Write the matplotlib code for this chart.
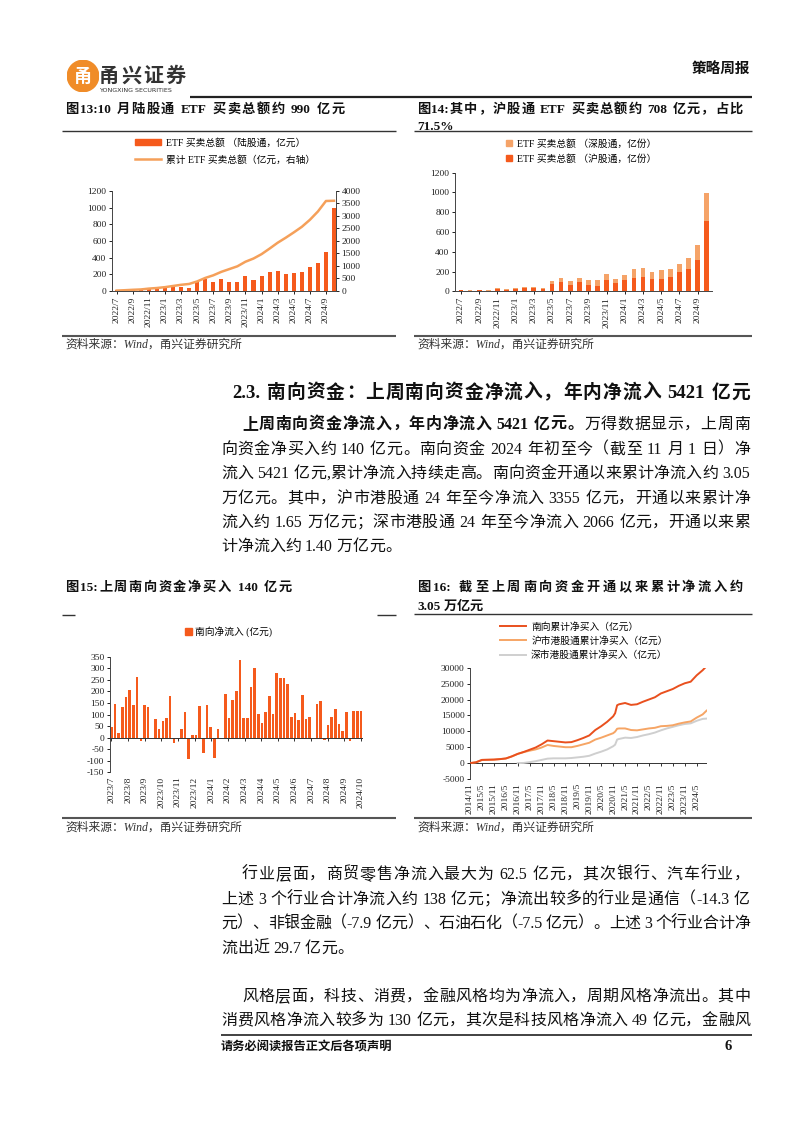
import re
import numpy as np
import matplotlib
matplotlib.use('Agg')
import matplotlib.pyplot as plt
from matplotlib.patches import Circle, Patch
from matplotlib.lines import Line2D

# ---------------- data ----------------
months13 = ['2022/7', '2022/8', '2022/9', '2022/10', '2022/11', '2022/12',
            '2023/1', '2023/2', '2023/3', '2023/4', '2023/5', '2023/6',
            '2023/7', '2023/8', '2023/9', '2023/10', '2023/11', '2023/12',
            '2024/1', '2024/2', '2024/3', '2024/4', '2024/5', '2024/6',
            '2024/7', '2024/8', '2024/9', '2024/10']
etf_total = [17, 14, 17, 14, 34, 24, 34, 47, 47, 34, 104, 140, 105, 145, 108, 108,
             183, 128, 175, 224, 234, 200, 213, 224, 283, 336, 467, 990]
etf_cum = [17, 31, 48, 62, 96, 120, 154, 201, 248, 282, 383, 522, 627, 766, 877, 988,
           1171, 1299, 1474, 1697, 1930, 2130, 2343, 2566, 2846, 3180, 3600, 3610]
etf_sh = [10, 8, 10, 8, 24, 14, 24, 37, 34, 20, 71, 95, 61, 95, 61, 57,
          118, 84, 111, 139, 145, 128, 128, 142, 196, 223, 321, 708]
etf_sz = [7, 6, 7, 6, 10, 10, 10, 10, 13, 14, 30, 44, 44, 44, 50, 54,
          61, 44, 58, 84, 88, 72, 85, 81, 84, 111, 145, 282]

south_labels = ['2023/7', '2023/8', '2023/9', '2023/10', '2023/11', '2023/12',
                '2024/1', '2024/2', '2024/3', '2024/4', '2024/5', '2024/6',
                '2024/7', '2024/8', '2024/9', '2024/10']
south_weekly = [47, 144, 19, 133, 176, 206, 140, 263, -14, 140, 134,
                0, 79, 39, 72, 84, 180, -22, -8, 36, 111, -94, 10, 13, 137, -68, 140, 46, -88, 39,
                0, 189, 87, 163, 202, 336, 84, 87, 219, 303, 101, 62,
                111, 180, 102, 281, 260, 260, 232, 91, 108, 76, 185, 79, 88,
                0, 144, 159, -10, 53, 91, 123, 58, 27, 112, -13, 113, 116, 114]

dates16 = ['2014/11', '2015/2', '2015/5', '2015/8', '2015/11', '2016/2', '2016/5', '2016/8',
           '2016/11', '2017/2', '2017/5', '2017/8', '2017/11', '2018/2', '2018/5', '2018/8',
           '2018/11', '2019/2', '2019/5', '2019/8', '2019/11', '2020/2', '2020/5', '2020/8',
           '2020/11', '2020/12', '2021/1', '2021/2', '2021/5', '2021/8', '2021/11', '2022/2',
           '2022/5', '2022/8', '2022/11', '2023/2', '2023/5', '2023/8', '2023/11', '2024/2',
           '2024/5', '2024/8', '2024/10']
south_cum = [0, 250, 1000, 1050, 1100, 1250, 1450, 2100,
             2900, 3500, 4200, 4900, 5900, 7100, 6900, 6700,
             6500, 6600, 7200, 7900, 8700, 10400, 11600, 13000,
             14700, 15700, 18200, 18500, 18900, 18300, 18500, 19300,
             20000, 20700, 21900, 22600, 23300, 24300, 25100, 25600,
             27600, 29200, 30500]
sh_cum = [0, 250, 1000, 1050, 1100, 1250, 1450, 2100,
          2900, 3450, 3900, 4300, 4900, 5700, 5400, 5200,
          5000, 5000, 5400, 5900, 6400, 7400, 8000, 8700,
          9400, 9900, 10800, 10900, 10900, 10400, 10300, 10600,
          10900, 11100, 11600, 11700, 11900, 12400, 12800, 13100,
          14300, 15300, 16500]
sz_cum = [None, None, None, None, None, None, None, None,
          0, 50, 300, 600, 1000, 1400, 1500, 1500,
          1500, 1600, 1800, 2000, 2300, 3000, 3600, 4300,
          5300, 5800, 7400, 7600, 8000, 7900, 8200, 8700,
          9100, 9600, 10300, 10900, 11400, 11900, 12300, 12500,
          13300, 13900, 14000]
ticks16 = ['2014/11', '2015/5', '2015/11', '2016/5', '2016/11', '2017/5', '2017/11',
           '2018/5', '2018/11', '2019/5', '2019/11', '2020/5', '2020/11', '2021/5',
           '2021/11', '2022/5', '2022/11', '2023/5', '2023/11', '2024/5']

# ---------------- setup ----------------
FAM = ['Liberation Serif', 'Noto Sans CJK SC', 'DejaVu Sans']
plt.rcParams['font.family'] = FAM
plt.rcParams['axes.unicode_minus'] = False

W, H = 802, 1133
fig = plt.figure(figsize=(W / 100, H / 100), dpi=100)
fig.patch.set_facecolor('white')
renderer = fig.canvas.get_renderer()

C_RED = '#F55A1C'
C_LIGHT = '#F5A368'
C_LINE = '#F5A05A'
C_S = '#E9501E'
C_SH = '#F6A565'
C_SZ = '#CFCFCF'
C_TXT = '#111111'


def fy(y):
    return 1 - y / H


def add_ax(l, t, r, b):
    return fig.add_axes([l / W, 1 - b / H, (r - l) / W, (b - t) / H])


def hline(x0, x1, y, lw=1.0, color='#333333'):
    fig.add_artist(Line2D([x0 / W, x1 / W], [fy(y), fy(y)], transform=fig.transFigure,
                          lw=lw, color=color, solid_capstyle='butt'))


_cache = {}


def tw(s, size, weight):
    key = (s, size, weight)
    if key not in _cache:
        t = fig.text(0, 0.5, s, fontsize=size, weight=weight)
        _cache[key] = t.get_window_extent(renderer=renderer).width
        t.remove()
    return _cache[key]


REF = '中'
TOKRE = re.compile(r'[A-Za-z0-9\.\-%:/,]+| |.')


def adv(tok, size, weight):
    return tw(tok + REF, size, weight) - tw(REF, size, weight)


def draw_line(x0, yc, segs, size, x1=None, color=C_TXT):
    toks = []
    for s, wgt in segs:
        for t in TOKRE.findall(s):
            toks.append((t, wgt))
    advs = [adv(t, size, w) for t, w in toks]
    n = len(toks)
    extra = 0.0
    if x1 is not None and n > 1:
        extra = (x1 - x0 - sum(advs)) / (n - 1)
    base = yc + size * 100 / 72 * 0.36
    x = x0
    for (t, w), a in zip(toks, advs):
        if t != ' ':
            fig.text(x / W, fy(base), t, fontsize=size, weight=w, color=color,
                     ha='left', va='baseline')
        x += a + extra


def style(ax, size=6.8):
    ax.tick_params(labelsize=size, length=2.5, width=0.7, colors='#222222', pad=1.5)
    for s in ax.spines.values():
        s.set_linewidth(0.7)
        s.set_color('#444444')
    ax.spines['top'].set_visible(False)
    ax.spines['right'].set_visible(False)
    ax.set_facecolor('none')


# ---------------- header ----------------
lax = add_ax(67, 60, 99, 92)
lax.set_xlim(0, 1)
lax.set_ylim(0, 1)
lax.axis('off')
lax.add_patch(Circle((0.5, 0.5), 0.49, color='#F08C28'))
lax.text(0.5, 0.47, '甬', color='white', fontsize=13, weight='bold', ha='center', va='center')
draw_line(99, 75, [('甬兴证券', 'bold')], 14.5, x1=186, color='#333333')
fig.text(99 / W, fy(91), 'YONGXING SECURITIES', fontsize=4.6, color='#333333',
         ha='left', va='center', family='DejaVu Sans')
fig.text(750 / W, fy(70), '策略周报', fontsize=10.5, weight='bold', color=C_TXT,
         ha='right', va='center')
hline(190, 752, 97, lw=1.6, color='#222222')

# ---------------- titles row 1 ----------------
draw_line(65, 108, [('图13:10 月陆股通 ETF 买卖总额约 990 亿元', 'bold')], 9.5, x1=345)
draw_line(417, 108, [('图14:其中，沪股通 ETF 买卖总额约 708 亿元，占比', 'bold')], 9.5, x1=743)
draw_line(417, 125, [('71.5%', 'bold')], 9.5)
hline(62, 396, 131, lw=1.0, color='#333333')
hline(414, 752, 131, lw=1.0, color='#333333')

# ---------------- chart 13 ----------------
ax13 = add_ax(112, 191, 336, 291)
x13 = np.arange(len(months13))
ax13.bar(x13, etf_total, width=0.5, color=C_RED, zorder=2)
ax13.set_xlim(-0.58, len(months13) - 0.75)
ax13.set_ylim(0, 1200)
ax13.set_yticks(np.arange(0, 1201, 200))
ax13.set_xticks(x13[::2])
ax13.set_xticklabels(months13[::2], rotation=90)
style(ax13)
ax13r = ax13.twinx()
ax13r.plot(x13, etf_cum, color=C_LINE, lw=1.8, zorder=3)
ax13r.set_ylim(0, 4000)
ax13r.set_yticks(np.arange(0, 4001, 500))
style(ax13r)
ax13r.spines['right'].set_visible(True)
ax13r.spines['left'].set_visible(False)
ax13r.spines['bottom'].set_visible(False)
fig.legend([Patch(color=C_RED), Line2D([], [], color=C_LINE, lw=1.8)],
           ['ETF 买卖总额 （陆股通，亿元）', '累计 ETF 买卖总额（亿元，右轴）'],
           loc='upper left', bbox_to_anchor=(135 / W, fy(138)), frameon=False,
           fontsize=7, handlelength=2.7, handleheight=0.6, labelspacing=0.75,
           handletextpad=0.5, borderpad=0, borderaxespad=0)

# ---------------- chart 14 ----------------
ax14 = add_ax(455, 172.7, 712, 291.3)
x14 = np.arange(len(months13))
ax14.bar(x14, etf_sh, width=0.52, color=C_RED, zorder=2)
ax14.bar(x14, etf_sz, bottom=etf_sh, width=0.52, color=C_LIGHT, zorder=2)
ax14.set_xlim(-0.66, len(months13) - 0.42)
ax14.set_ylim(0, 1200)
ax14.set_yticks(np.arange(0, 1201, 200))
ax14.set_xticks(x14[::2])
ax14.set_xticklabels(months13[::2], rotation=90)
style(ax14)
fig.legend([Patch(color=C_LIGHT), Patch(color=C_RED)],
           ['ETF 买卖总额 （深股通，亿份）', 'ETF 买卖总额 （沪股通，亿份）'],
           loc='upper left', bbox_to_anchor=(506 / W, fy(139)), frameon=False,
           fontsize=7, handlelength=0.6, handleheight=0.6, labelspacing=0.55,
           handletextpad=0.5, borderpad=0, borderaxespad=0)

for xs, xe in ((62, 396), (414, 752)):
    hline(xs, xe, 336, lw=1.5, color='#555555')
fig.text(65 / W, fy(345), '资料来源：Wind，甬兴证券研究所', fontsize=8.5, style='italic',
         color='#333333', ha='left', va='center')
fig.text(417 / W, fy(345), '资料来源：Wind，甬兴证券研究所', fontsize=8.5, style='italic',
         color='#333333', ha='left', va='center')

# ---------------- section text ----------------
draw_line(232, 391, [('2.3. 南向资金：上周南向资金净流入，年内净流入 5421 亿元', 'bold')], 13.5, x1=750)
BS = 11.5
draw_line(242, 423, [('上周南向资金净流入，年内净流入 5421 亿元。', 'bold'),
                     ('万得数据显示，上周南', 'normal')], BS, x1=750)
draw_line(221, 448, [('向资金净买入约 140 亿元。南向资金 2024 年初至今（截至 11 月 1 日）净', 'normal')], BS, x1=750)
draw_line(221, 472, [('流入 5421 亿元,累计净流入持续走高。南向资金开通以来累计净流入约 3.05', 'normal')], BS, x1=750)
draw_line(221, 497, [('万亿元。其中，沪市港股通 24 年至今净流入 3355 亿元，开通以来累计净', 'normal')], BS, x1=750)
draw_line(221, 521, [('流入约 1.65 万亿元；深市港股通 24 年至今净流入 2066 亿元，开通以来累', 'normal')], BS, x1=750)
draw_line(221, 545, [('计净流入约 1.40 万亿元。', 'normal')], BS)

# ---------------- titles row 2 ----------------
draw_line(65, 586, [('图15:上周南向资金净买入 140 亿元', 'bold')], 9.5, x1=292)
draw_line(417, 586, [('图16: 截至上周南向资金开通以来累计净流入约', 'bold')], 9.5, x1=743)
draw_line(417, 605, [('3.05 万亿元', 'bold')], 9.5)
hline(62, 75, 615, lw=1.0)
hline(377, 396, 615, lw=1.0)
hline(414, 752, 614, lw=1.0)

# ---------------- chart 15 ----------------
ax15 = add_ax(110, 656.7, 363, 772.3)
n15 = len(south_weekly)
x15 = np.arange(n15)
ax15.bar(x15, south_weekly, width=0.72, color=C_RED, zorder=2)
ax15.set_xlim(-0.4, n15 - 1 + 0.55)
ax15.set_ylim(-150, 350)
ax15.set_yticks(np.arange(-150, 351, 50))
style(ax15)
ax15.spines['bottom'].set_visible(False)
ax15.axhline(0, color='#333333', lw=0.7, zorder=3)
p15 = np.linspace(0, n15 - 1, len(south_labels))
ax15.set_xticks(p15)
ax15.set_xticklabels(south_labels, rotation=90)
ax15.tick_params(axis='x', length=0, pad=3)
ax15.plot(p15, np.zeros_like(p15), ls='none', marker=3, ms=2.5, mew=0.7,
          color='#333333', clip_on=False, zorder=4)
fig.legend([Patch(color=C_RED)], ['南向净流入 (亿元)'],
           loc='center left', bbox_to_anchor=(185 / W, fy(632)), frameon=False,
           fontsize=7, handlelength=0.7, handleheight=0.7, handletextpad=0.3,
           borderpad=0, borderaxespad=0)


# ---------------- chart 16 ----------------
def mon(s):
    y, m = s.split('/')
    return (int(y) - 2014) * 12 + int(m) - 11


ax16 = add_ax(470, 667.7, 707, 779)
x16 = np.array([mon(d) for d in dates16])
ax16.plot(x16, np.array(sz_cum, dtype=float), color=C_SZ, lw=1.4, zorder=2)
ax16.plot(x16, sh_cum, color=C_SH, lw=1.4, zorder=3)
ax16.plot(x16, south_cum, color=C_S, lw=1.4, zorder=4)
ax16.set_xlim(0, 119.2)
ax16.set_ylim(-5000, 30000)
ax16.set_yticks(np.arange(-5000, 30001, 5000))
style(ax16)
ax16.spines['bottom'].set_visible(False)
ax16.axhline(0, color='#333333', lw=0.7, zorder=1)
p16 = np.array([mon(t) for t in ticks16])
ax16.set_xticks(p16)
ax16.set_xticklabels(ticks16, rotation=90)
ax16.tick_params(axis='x', length=0, pad=3)
ax16.plot(p16, np.zeros(len(p16)), ls='none', marker=3, ms=2.5, mew=0.7,
          color='#333333', clip_on=False, zorder=5)
fig.legend([Line2D([], [], color=C_S, lw=1.4), Line2D([], [], color=C_SH, lw=1.4),
            Line2D([], [], color=C_SZ, lw=1.4)],
           ['南向累计净买入（亿元）', '沪市港股通累计净买入（亿元）', '深市港股通累计净买入（亿元）'],
           loc='upper left', bbox_to_anchor=(500 / W, fy(622)), frameon=False,
           fontsize=7, handlelength=2.7, labelspacing=0.45, handletextpad=0.5,
           borderpad=0, borderaxespad=0)

for xs, xe in ((62, 396), (414, 752)):
    hline(xs, xe, 818, lw=1.5, color='#555555')
fig.text(65 / W, fy(828), '资料来源：Wind，甬兴证券研究所', fontsize=8.5, style='italic',
         color='#333333', ha='left', va='center')
fig.text(417 / W, fy(828), '资料来源：Wind，甬兴证券研究所', fontsize=8.5, style='italic',
         color='#333333', ha='left', va='center')

# ---------------- bottom text ----------------
draw_line(242, 873, [('行业层面，商贸零售净流入最大为 62.5 亿元，其次银行、汽车行业，', 'normal')], BS, x1=750)
draw_line(221, 898, [('上述 3 个行业合计净流入约 138 亿元；净流出较多的行业是通信（-14.3 亿', 'normal')], BS, x1=750)
draw_line(221, 922, [('元）、非银金融（-7.9 亿元）、石油石化（-7.5 亿元）。上述 3 个行业合计净', 'normal')], BS, x1=750)
draw_line(221, 947, [('流出近 29.7 亿元。', 'normal')], BS)
draw_line(242, 995, [('风格层面，科技、消费，金融风格均为净流入，周期风格净流出。其中', 'normal')], BS, x1=750)
draw_line(221, 1019, [('消费风格净流入较多为 130 亿元，其次是科技风格净流入 49 亿元，金融风', 'normal')], BS, x1=750)

hline(221, 752, 1035, lw=1.3, color='#333333')
fig.text(221 / W, fy(1047), '请务必阅读报告正文后各项声明', fontsize=8.8, weight='bold',
         color=C_TXT, ha='left', va='center')
fig.text(728 / W, fy(1047), '6', fontsize=10.5, weight='bold', color=C_TXT,
         ha='center', va='center')

fig.savefig('out.png', dpi=100, facecolor='white')
